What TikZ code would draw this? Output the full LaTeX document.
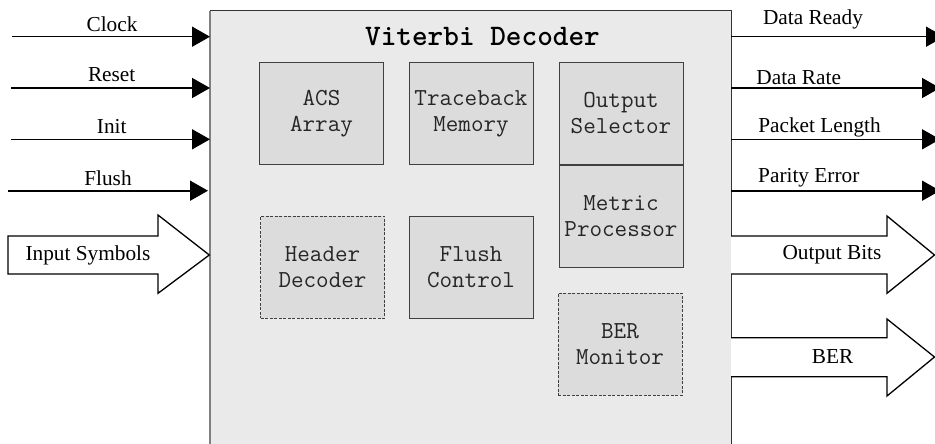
\documentclass[tikz,border=0pt]{standalone}
\usepackage{fontspec}
\setmainfont{Liberation Serif}
\usetikzlibrary{arrows.meta}
\definecolor{mainfill}{HTML}{EAEAEA}
\definecolor{boxfill}{HTML}{DCDCDC}
\definecolor{edgegray}{HTML}{808080}
\tikzset{
  blk/.style={draw=black!75, fill=boxfill, line width=0.9pt, minimum width=124pt, minimum height=102pt,
    align=center, inner sep=0pt, font=\ttfamily\fontsize{24.4}{26}\selectfont, text=black!85},
  blkdash/.style={blk, dash pattern=on 3pt off 1.5pt},
  sig/.style={line width=1.6pt, -{Triangle[length=18pt,width=20pt]}},
  siglabel/.style={font=\fontsize{21.3}{25}\selectfont, inner sep=0pt},
  bigarrow/.style={draw=black, fill=white, line width=1.3pt, line join=miter},
}
\begin{document}
\begin{tikzpicture}[x=1pt,y=-1pt]
\useasboundingbox (0,0) rectangle (935,444);
\clip (0,0) rectangle (935,444);

% main decoder box
\fill[mainfill] (210,11) rectangle (731,460);
\draw[black!80, line width=1pt] (210,11) -- (731,11) -- (731,460);
\draw[edgegray, line width=2pt] (210,11) -- (210,460);
\node[font=\ttfamily\bfseries\fontsize{29.8}{32}\selectfont, inner sep=0pt] (title) at (482.5,37) {Viterbi Decoder};

% inner blocks
\node[blk] (acs) at (321.5,113.5) {ACS\\Array};
\node[blk] (tb) at (471,113.5) {Traceback\\Memory};
\node[blk] (os) at (621,113.5) {Output\\Selector};
\node[blk] (mp) at (621,216) {Metric\\Processor};
\node[blkdash] (hd) at (322.5,267) {Header\\Decoder};
\node[blk] (fc) at (471,267) {Flush\\Control};
\node[blkdash] (ber) at (620,344) {BER\\Monitor};

% left input signals
\coordinate (clkS) at (12,36.7);  \coordinate (clkE) at (210,36.7);
\coordinate (rstS) at (11,88);    \coordinate (rstE) at (210,88);
\coordinate (iniS) at (11,139.3); \coordinate (iniE) at (210,139.3);
\coordinate (flsS) at (8,190.7);  \coordinate (flsE) at (208,190.7);
\draw[sig] (clkS) -- (clkE);
\draw[sig] (rstS) -- (rstE);
\draw[sig] (iniS) -- (iniE);
\draw[sig] (flsS) -- (flsE);
\node[siglabel] (clkL) at (112,24) {Clock};
\node[siglabel] (rstL) at (111.7,75) {Reset};
\node[siglabel] (iniL) at (111.7,127) {Init};
\node[siglabel] (flsL) at (108,178) {Flush};

% right output signals
\coordinate (drS) at (731,36.7);  \coordinate (drE) at (944,36.7);
\coordinate (raS) at (731,88);    \coordinate (raE) at (940,88);
\coordinate (plS) at (731,139.3); \coordinate (plE) at (940,139.3);
\coordinate (peS) at (731,190.7); \coordinate (peE) at (940,190.7);
\draw[sig] (drS) -- (drE);
\draw[sig] (raS) -- (raE);
\draw[sig] (plS) -- (plE);
\draw[sig] (peS) -- (peE);
\node[siglabel] (drL) at (813,19) {Data Ready};
\node[siglabel] (raL) at (798.7,78) {Data Rate};
\node[siglabel] (plL) at (819.5,127) {Packet Length};
\node[siglabel] (peL) at (808.8,178) {Parity Error};

% block arrows
\draw[bigarrow] (8,236) -- (158,236) -- (158,215) -- (209.3,255) -- (158,293.3) -- (158,274) -- (8,274) -- cycle;
\node[siglabel] (inL) at (88,255) {Input Symbols};
\draw[bigarrow] (731,236) -- (887,236) -- (887,216) -- (934.5,255) -- (887,293.3) -- (887,274) -- (731,274);
\node[siglabel] (obL) at (832,255) {Output Bits};
\draw[bigarrow] (731,337.7) -- (887,337.7) -- (887,319) -- (934.5,357) -- (887,396) -- (887,376.7) -- (731,376.7);
\node[siglabel] (berL) at (832.5,357) {BER};
\end{tikzpicture}
\end{document}
